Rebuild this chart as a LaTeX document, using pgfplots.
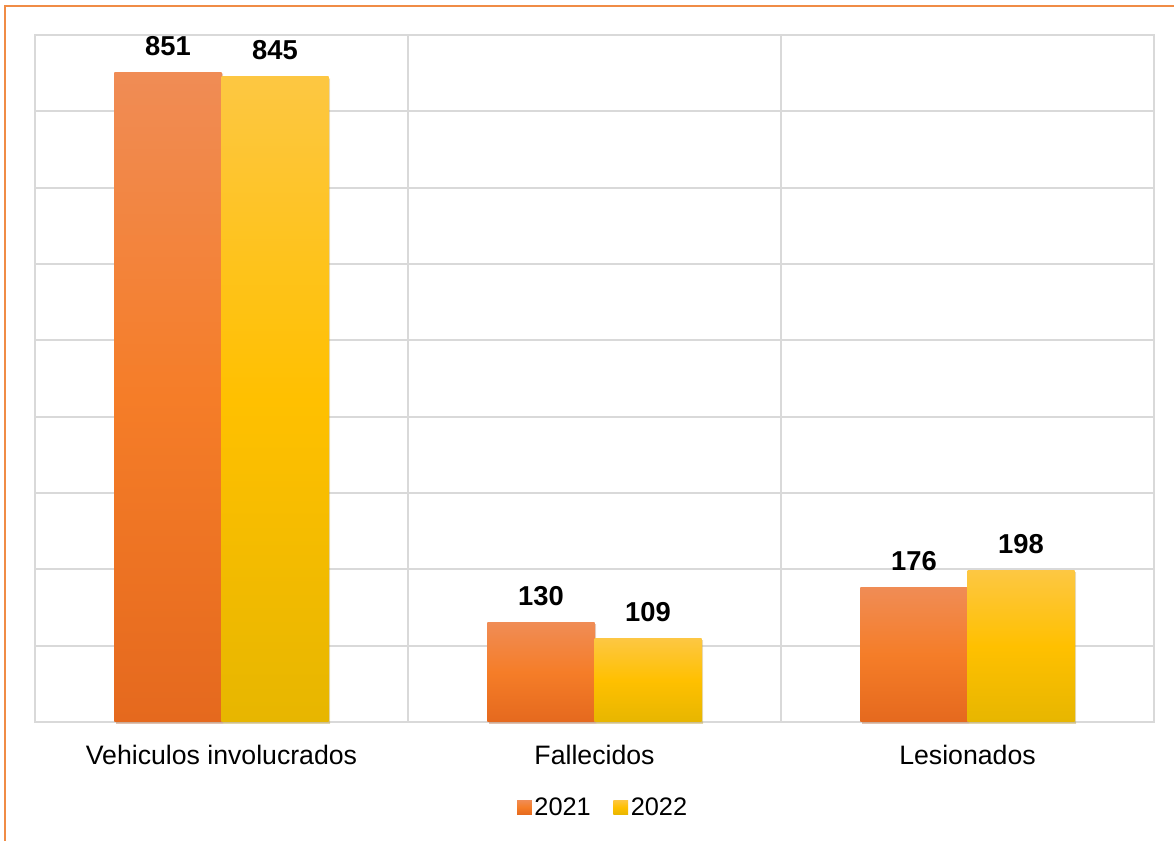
\documentclass[border=0pt]{standalone}
\usepackage{pgfplots}
\pgfplotsset{compat=1.18}
\usetikzlibrary{shadows}
\usepackage{fontspec}
\setmainfont{Liberation Sans}
\definecolor{gridc}{RGB}{217,217,217}
\definecolor{otop}{RGB}{240,140,85}
\definecolor{omid}{RGB}{245,125,40}
\definecolor{obot}{RGB}{229,105,30}
\definecolor{ytop}{RGB}{253,199,66}
\definecolor{ymid}{RGB}{255,192,0}
\definecolor{ybot}{RGB}{231,182,0}
\definecolor{framec}{RGB}{240,140,70}
\pgfplotsset{
 obar/.style={ybar, draw=none, top color=otop, bottom color=obot, middle color=omid, bar shift=-0.1435,
   drop shadow={shadow xshift=1.2pt, shadow yshift=-1.2pt, opacity=0.25}},
 ybarc/.style={ybar, draw=none, top color=ytop, bottom color=ybot, middle color=ymid, bar shift=0.1435,
   drop shadow={shadow xshift=1.2pt, shadow yshift=-1.2pt, opacity=0.25}},
}
\begin{document}
\begin{tikzpicture}
\useasboundingbox (0,0) rectangle (880.5pt,630.75pt);
\draw[framec, line width=1.5pt] (4.1pt,0) -- (4.1pt,626.6pt) -- (880.5pt,626.6pt);
\begin{axis}[
 at={(26.25pt,89.25pt)}, anchor=south west,
 scale only axis, width=839.25pt, height=515.25pt,
 ybar=0pt, bar width=0.287,
 xmin=-0.5, xmax=2.5, ymin=0, ymax=900,
 xtick={0,1,2}, xticklabels={Vehiculos involucrados, Fallecidos, Lesionados},
 minor xtick={0.5,1.5}, xminorgrids, ymajorgrids,
 ytick={0,100,...,900}, yticklabel=\empty,
 major tick length=0pt, minor tick length=0pt,
 grid style={gridc, line width=1.5pt}, minor grid style={gridc, line width=1.5pt},
 axis line style={gridc, line width=1.5pt},
 tick label style={font=\fontsize{20}{24}\selectfont},
 xticklabel style={anchor=north, inner sep=0pt, yshift=-17pt},
 /pgf/number format/assume math mode=true,
 nodes near coords,
 nodes near coords style={font=\fontsize{20.5}{24}\selectfont\bfseries, anchor=south, inner sep=0pt, yshift=12.5pt, text=black},
 legend style={at={(0.508,-0.1252)}, anchor=center, draw=none, legend columns=2, font=\fontsize{19}{22}\selectfont, /tikz/every even column/.append style={column sep=15pt}},
 legend image code/.code={\path[#1, draw=none] (-3pt,-5pt) rectangle (8pt,6pt);},
 clip=false,
]
\addlegendimage{draw=none, top color=otop, bottom color=obot, middle color=omid}
\addlegendimage{draw=none, top color=ytop, bottom color=ybot, middle color=ymid}
\addplot[obar, forget plot] coordinates {(0,851)};
\addplot[obar, forget plot] coordinates {(1,130)};
\addplot[obar, forget plot] coordinates {(2,176)};
\addplot[ybarc, forget plot] coordinates {(0,845)};
\addplot[ybarc, forget plot] coordinates {(1,109)};
\addplot[ybarc, forget plot] coordinates {(2,198)};
\legend{2021,2022}
\end{axis}
\end{tikzpicture}
\end{document}
